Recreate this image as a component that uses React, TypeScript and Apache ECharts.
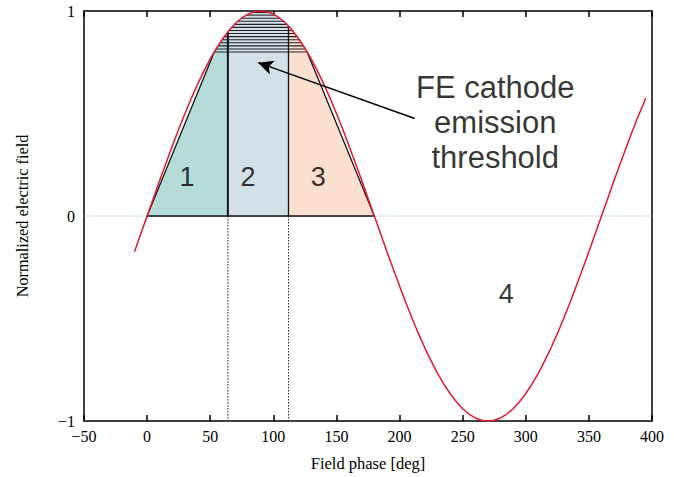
import React, { useEffect, useRef } from "react";
import * as echarts from "echarts";

// Normalized RF field, sampled every 5 degrees of phase starting at -10 deg
const PHASE_START = -10;
const PHASE_STEP = 5;
const fieldValues = [
  -0.174, -0.087, 0, 0.087, 0.174, 0.259, 0.342, 0.423, 0.5, 0.574, 0.643, 0.707,
  0.766, 0.819, 0.866, 0.906, 0.94, 0.966, 0.985, 0.996, 1, 0.996, 0.985, 0.966,
  0.94, 0.906, 0.866, 0.819, 0.766, 0.707, 0.643, 0.574, 0.5, 0.423, 0.342, 0.259,
  0.174, 0.087, 0, -0.087, -0.174, -0.259, -0.342, -0.423, -0.5, -0.574, -0.643,
  -0.707, -0.766, -0.819, -0.866, -0.906, -0.94, -0.966, -0.985, -0.996, -1,
  -0.996, -0.985, -0.966, -0.94, -0.906, -0.866, -0.819, -0.766, -0.707, -0.643,
  -0.574, -0.5, -0.423, -0.342, -0.259, -0.174, -0.087, 0, 0.087, 0.174, 0.259,
  0.342, 0.423, 0.5, 0.574,
];
const fieldPhases = fieldValues.map((_, i) => PHASE_START + PHASE_STEP * i);

// Emission zones along the phase axis (deg) and the emission threshold
const zoneEdges = [0, 64, 112, 180];
const zoneColors = ["#b5dcd8", "#d3e0e8", "#fbdfcf"];
const THRESHOLD = 0.8;
const hatchLevels = [0.8, 0.815, 0.83, 0.845, 0.86, 0.875, 0.89, 0.905, 0.92, 0.935, 0.95, 0.965, 0.98, 0.993];

const xTicks = { min: -50, max: 400, interval: 50 };
const yTicks = { min: -1, max: 1, interval: 1 };

const zoneLabels = [
  { name: "1", value: [31.7, 0.19] },
  { name: "2", value: [80, 0.19] },
  { name: "3", value: [135.5, 0.19] },
  { name: "4", value: [284.5, -0.38] },
];
const noteText = "FE cathode\nemission\nthreshold";
const notePos = [275.8, 0.455];
const arrowFrom = [212, 0.476];
const arrowTo = [88, 0.748];

function curveAt(x: number): number {
  for (let i = 0; i < fieldPhases.length - 1; i++) {
    const a = fieldPhases[i], b = fieldPhases[i + 1];
    if (x >= a && x <= b) {
      const t = (x - a) / (b - a);
      return fieldValues[i] + t * (fieldValues[i + 1] - fieldValues[i]);
    }
  }
  return 0;
}

function crossing(level: number, from: number, to: number): number {
  for (let i = 0; i < fieldPhases.length - 1; i++) {
    const a = fieldPhases[i], b = fieldPhases[i + 1];
    if (b < from || a > to) continue;
    const va = fieldValues[i], vb = fieldValues[i + 1];
    if ((va - level) * (vb - level) <= 0 && va !== vb) {
      const x = a + ((level - va) / (vb - va)) * (b - a);
      if (x >= from && x <= to) return x;
    }
  }
  return (from + to) / 2;
}

function curvePoints(a: number, b: number): number[][] {
  const pts: number[][] = [[a, curveAt(a)]];
  fieldPhases.forEach((p, i) => {
    if (p > a && p < b) pts.push([p, fieldValues[i]]);
  });
  pts.push([b, curveAt(b)]);
  return pts;
}

const riseX = crossing(THRESHOLD, zoneEdges[0], 90);
const fallX = crossing(THRESHOLD, 90, zoneEdges[3]);

const zonePolygons = [
  [[zoneEdges[0], 0], [riseX, THRESHOLD], ...curvePoints(riseX, zoneEdges[1]), [zoneEdges[1], 0]],
  [[zoneEdges[1], 0], ...curvePoints(zoneEdges[1], zoneEdges[2]), [zoneEdges[2], 0]],
  [[zoneEdges[2], 0], ...curvePoints(zoneEdges[2], fallX), [zoneEdges[3], 0]],
];

const serif = "'Liberation Serif', 'Times New Roman', serif";
const sans = "'Liberation Sans', Arial, Helvetica, sans-serif";
const minus = (v: number) => String(v).replace("-", "\u2212");

export default function App() {
  const ref = useRef<HTMLDivElement>(null);

  useEffect(() => {
    if (!ref.current) return;
    document.body.style.margin = "0";
    const chart = echarts.init(ref.current, null, { renderer: "svg" });

    const renderZones = (_params: any, api: any) => {
      const c = (p: number[]) => api.coord(p);
      const children: any[] = [];
      zonePolygons.forEach((poly, i) => {
        children.push({
          type: "polygon",
          shape: { points: poly.map(c) },
          style: { fill: zoneColors[i], stroke: "none" },
        });
      });
      hatchLevels.forEach((lv) => {
        const a = c([crossing(lv, zoneEdges[0], 90), lv]);
        const b = c([crossing(lv, 90, zoneEdges[3]), lv]);
        children.push({
          type: "line",
          shape: { x1: a[0], y1: a[1], x2: b[0], y2: b[1] },
          style: { stroke: "#222", lineWidth: 1.1 },
        });
      });
      // outline of the trapezoid
      children.push({
        type: "polyline",
        shape: {
          points: [[riseX, THRESHOLD], [zoneEdges[0], 0], [zoneEdges[3], 0], [fallX, THRESHOLD]].map(c),
        },
        style: { stroke: "#111", lineWidth: 1.3, fill: "none" },
      });
      [zoneEdges[1], zoneEdges[2]].forEach((x, i) => {
        const top = c([x, curveAt(x)]);
        const bot = c([x, 0]);
        children.push({
          type: "line",
          shape: { x1: top[0], y1: top[1], x2: bot[0], y2: bot[1] },
          style: { stroke: "#111", lineWidth: i === 0 ? 2 : 1.3 },
        });
        const low = c([x, yTicks.min]);
        children.push({
          type: "line",
          shape: { x1: bot[0], y1: bot[1], x2: low[0], y2: low[1] },
          style: { stroke: "#222", lineWidth: 1, lineDash: [1.5, 1.5] },
        });
      });
      return { type: "group", children };
    };

    chart.setOption({
      animation: false,
      backgroundColor: "#fff",
      grid: { left: 84, right: 22, top: 11, bottom: 54, containLabel: false },
      xAxis: [
        {
          type: "value",
          ...xTicks,
          position: "bottom",
          name: "Field phase [deg]",
          nameLocation: "middle",
          nameGap: 34,
          nameTextStyle: { fontFamily: serif, fontSize: 16.5, color: "#000" },
          axisLine: { onZero: false, lineStyle: { color: "#000", width: 1.5 } },
          axisTick: { inside: true, length: 6, lineStyle: { color: "#000", width: 1.5 } },
          axisLabel: { fontFamily: serif, fontSize: 16, color: "#000", margin: 7, formatter: minus },
          splitLine: { show: false },
        },
        {
          type: "value",
          ...xTicks,
          position: "top",
          axisLine: { onZero: false, lineStyle: { color: "#000", width: 1.5 } },
          axisTick: { inside: true, length: 6, lineStyle: { color: "#000", width: 1.5 } },
          axisLabel: { show: false },
          splitLine: { show: false },
        },
      ],
      yAxis: [
        {
          type: "value",
          ...yTicks,
          position: "left",
          name: "Normalized electric field",
          nameLocation: "middle",
          nameGap: 54,
          nameTextStyle: { fontFamily: serif, fontSize: 16.3, color: "#000" },
          axisLine: { onZero: false, lineStyle: { color: "#000", width: 1.5 } },
          axisTick: { show: false },
          axisLabel: { fontFamily: serif, fontSize: 16, color: "#000", margin: 9, formatter: minus },
          splitLine: { show: false },
        },
        {
          type: "value",
          ...yTicks,
          position: "right",
          axisLine: { onZero: false, lineStyle: { color: "#000", width: 1.5 } },
          axisTick: { show: false },
          axisLabel: { show: false },
          splitLine: { show: false },
        },
      ],
      series: [
        {
          type: "line",
          z: 1,
          data: [[xTicks.min, 0], [xTicks.max, 0]],
          symbol: "none",
          lineStyle: { color: "#c6e4de", width: 1.2 },
          silent: true,
        },
        {
          type: "custom",
          z: 2,
          data: [[0, 0]],
          renderItem: renderZones,
          silent: true,
        },
        {
          type: "line",
          z: 3,
          data: fieldPhases.map((p, i) => [p, fieldValues[i]]),
          symbol: "none",
          lineStyle: { color: "#e2182f", width: 1.5 },
          silent: true,
          markLine: {
            silent: true,
            symbol: ["none", "arrow"],
            symbolSize: [11, 15],
            label: { show: false },
            lineStyle: { color: "#000", width: 1.5, type: "solid" },
            itemStyle: { color: "#000" },
            data: [[{ coord: arrowFrom }, { coord: arrowTo }]],
          },
        },
        {
          type: "scatter",
          z: 5,
          symbolSize: 0,
          silent: true,
          label: {
            show: true,
            position: "inside",
            formatter: "{b}",
            fontFamily: sans,
            fontSize: 27,
            color: "#000",
          },
          data: [
            ...zoneLabels,
            {
              name: noteText,
              value: notePos,
              label: { fontSize: 31, lineHeight: 35, align: "center" },
            },
          ],
        },
      ],
    });

    return () => chart.dispose();
  }, []);

  return <div ref={ref} style={{ width: 674, height: 477 }} />;
}
